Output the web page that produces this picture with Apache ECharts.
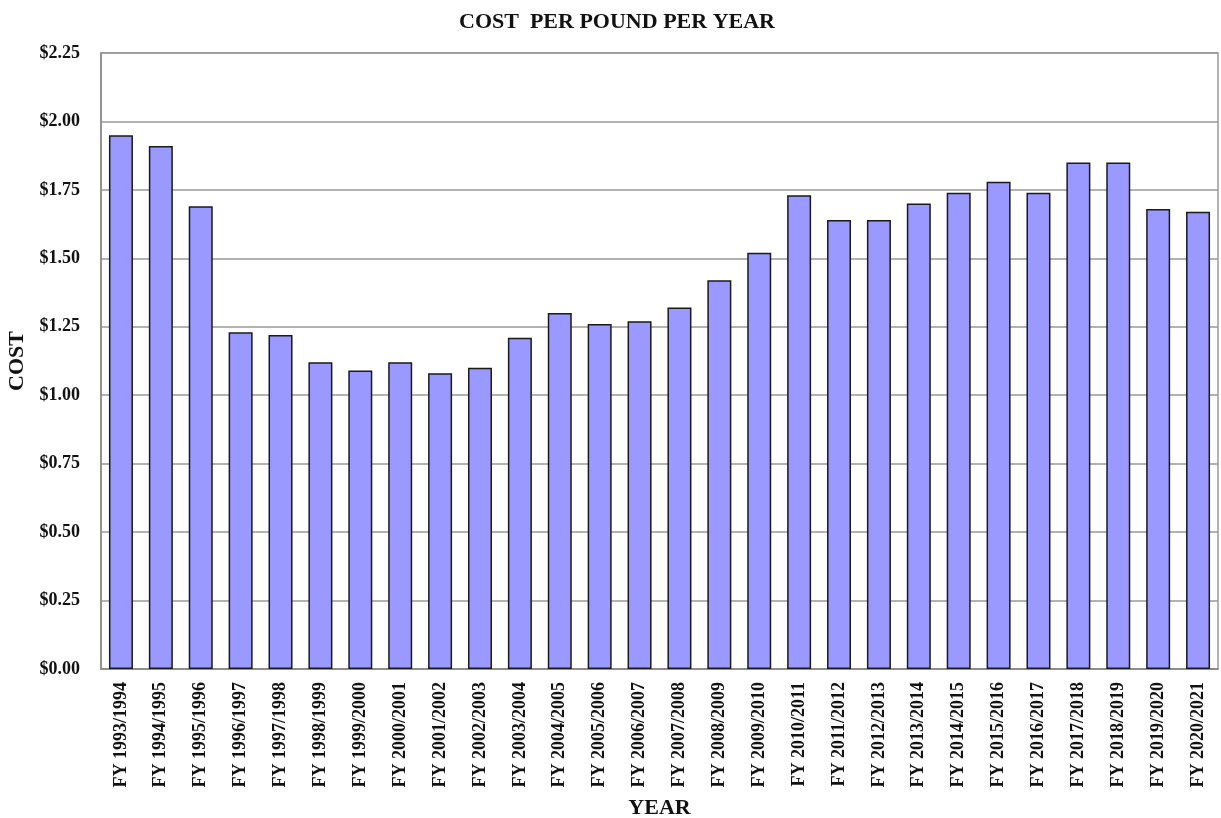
<!DOCTYPE html>
<html lang="en">
<head>
    <meta charset="UTF-8">
    <title>Cost per pound per year</title>
    <style>
        *{
            margin:0;
            padding:0;
            box-sizing:border-box;
        }
        html, body{
            height:100%;
            width:100%;
            background:#fff;
        }
        #myChart{
            height:818px;
            width:1221px;
        }
    </style>
</head>
<body>
<div id="myChart"></div>
<script src="https://cdn.jsdelivr.net/npm/echarts@6/dist/echarts.min.js"></script>
<script>
    var years = ['FY 1993/1994', 'FY 1994/1995', 'FY 1995/1996', 'FY 1996/1997', 'FY 1997/1998',
        'FY 1998/1999', 'FY 1999/2000', 'FY 2000/2001', 'FY 2001/2002', 'FY 2002/2003',
        'FY 2003/2004', 'FY 2004/2005', 'FY 2005/2006', 'FY 2006/2007', 'FY 2007/2008',
        'FY 2008/2009', 'FY 2009/2010', 'FY 2010/2011', 'FY 2011/2012', 'FY 2012/2013',
        'FY 2013/2014', 'FY 2014/2015', 'FY 2015/2016', 'FY 2016/2017', 'FY 2017/2018',
        'FY 2018/2019', 'FY 2019/2020', 'FY 2020/2021'];
    var cost = [1.95, 1.91, 1.69, 1.23, 1.22,
        1.12, 1.09, 1.12, 1.08, 1.10,
        1.21, 1.30, 1.26, 1.27, 1.32,
        1.42, 1.52, 1.73, 1.64, 1.64,
        1.70, 1.74, 1.78, 1.74, 1.85,
        1.85, 1.68, 1.67];
    var yMin = 0, yMax = 2.25, yStep = 0.25;

    var font = "'Liberation Serif', 'Times New Roman', serif";
    var myChart = echarts.init(document.getElementById('myChart'));
    var option = {
        animation:false,
        title:{
            text:'COST  PER POUND PER YEAR',
            left:612,
            top:6,
            textAlign:'center',
            textStyle:{
                fontFamily:font,
                fontWeight:'bold',
                fontSize:22,
                color:'#111'
            }
        },
        grid:{
            left:101,
            right:3,
            top:53,
            bottom:149,
            outerBoundsMode:'none',
            show:true,
            borderColor:'#999',
            borderWidth:1.5
        },
        xAxis:{
            type:'category',
            data:years,
            name:'YEAR',
            nameLocation:'middle',
            nameGap:128,
            nameTextStyle:{
                fontFamily:font,
                fontWeight:'bold',
                fontSize:22,
                color:'#111'
            },
            axisLine:{lineStyle:{color:'#888', width:1.5}},
            axisTick:{show:false},
            axisLabel:{
                rotate:90,
                interval:0,
                margin:13,
                fontFamily:font,
                fontWeight:'bold',
                fontSize:18,
                color:'#111'
            }
        },
        yAxis:{
            type:'value',
            min:yMin,
            max:yMax,
            interval:yStep,
            name:'COST',
            nameLocation:'middle',
            nameGap:72,
            nameRotate:90,
            nameTextStyle:{
                fontFamily:font,
                fontWeight:'bold',
                fontSize:22,
                color:'#111'
            },
            axisLine:{show:true, lineStyle:{color:'#888', width:1.5}},
            axisTick:{show:false},
            splitLine:{lineStyle:{color:'#999', width:1.5}},
            axisLabel:{
                margin:21,
                fontFamily:font,
                fontWeight:'bold',
                fontSize:18,
                color:'#111',
                formatter:function(v) {
                    return '$' + v.toFixed(2);
                }
            }
        },
        series:[
            {
                name:'Cost',
                type:'bar',
                barWidth:24,
                data:cost,
                itemStyle:{
                    color:'#9999ff',
                    borderColor:'#1a1a1a',
                    borderWidth:1.5
                }
            }
        ]
    };
    myChart.setOption(option);
</script>
</body>
</html>
